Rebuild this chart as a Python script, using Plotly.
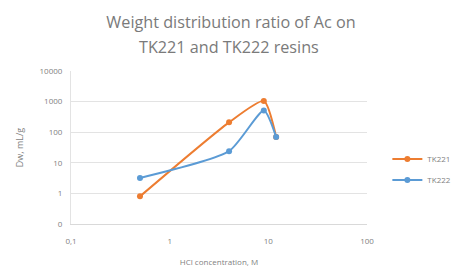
import plotly.graph_objects as go

hcl_tk221 = [0.5, 4, 9, 12]
dw_tk221 = [0.8, 210, 1050, 70]
hcl_tk222 = [0.5, 4, 9, 12]
dw_tk222 = [3.2, 24, 510, 70]

y_tickvals = [0.1, 1, 10, 100, 1000, 10000]
y_ticktext = ["0", "1", "10", "100", "1000", "10000"]
x_tickvals = [0.1, 1, 10, 100]
x_ticktext = ["0,1", "1", "10", "100"]

title_line1 = "Weight distribution ratio of Ac on"
title_line2 = "TK221 and TK222 resins"

grey = "#7f7f7f"
font_family = "Open Sans, Liberation Sans, sans-serif"

fig = go.Figure()
fig.add_trace(go.Scatter(
    x=hcl_tk221, y=dw_tk221, name="TK221", mode="lines+markers", legendgroup="a",
    line=dict(color="#ED7D31", width=2, shape="spline", smoothing=0.6),
    marker=dict(size=6, color="#ED7D31")))
fig.add_trace(go.Scatter(
    x=hcl_tk222, y=dw_tk222, name="TK222", mode="lines+markers", legendgroup="b",
    line=dict(color="#5B9BD5", width=2, shape="spline", smoothing=0.6),
    marker=dict(size=6, color="#5B9BD5")))

fig.update_layout(
    width=452, height=267,
    margin=dict(l=71, r=85, t=71, b=43, autoexpand=False),
    paper_bgcolor="white", plot_bgcolor="white",
    font=dict(family=font_family, color=grey, size=9),
    title=dict(text=title_line1, x=0.511, xanchor="center",
               y=1 - 22 / 267, yanchor="middle",
               font=dict(size=16.2, color="#7a7a7a")),
    legend=dict(xref="container", yref="container", x=0.857, y=0.365,
                xanchor="left", yanchor="middle",
                font=dict(size=8, color=grey), itemwidth=30,
                bgcolor="rgba(0,0,0,0)", tracegroupgap=2),
    showlegend=True,
)
fig.add_annotation(text=title_line2, xref="paper", yref="paper",
                   x=0.535, y=(224 - 47) / 153, xanchor="center", yanchor="middle",
                   showarrow=False, font=dict(size=16.2, color="#7a7a7a"))
fig.update_xaxes(
    type="log", range=[-1, 2], tickvals=x_tickvals, ticktext=x_ticktext,
    showgrid=False, showline=True, linecolor="#d9d9d9", linewidth=1,
    ticks="", zeroline=False, ticklabelstandoff=9,
    title=dict(text="HCl concentration, M", font=dict(size=8, color=grey), standoff=17),
    tickfont=dict(size=8, color=grey))
fig.update_yaxes(
    type="log", range=[-1, 4], tickvals=y_tickvals, ticktext=y_ticktext,
    showgrid=True, gridcolor="#e3e3e3", gridwidth=1,
    showline=True, linecolor="#e3e3e3", ticks="", zeroline=False,
    ticklabelstandoff=6,
    title=dict(text="Dw, mL/g", font=dict(size=9, color=grey), standoff=14),
    tickfont=dict(size=8, color=grey))

fig.write_html("out.html", config={"displayModeBar": False},
               post_script="document.body.style.margin='0';")
